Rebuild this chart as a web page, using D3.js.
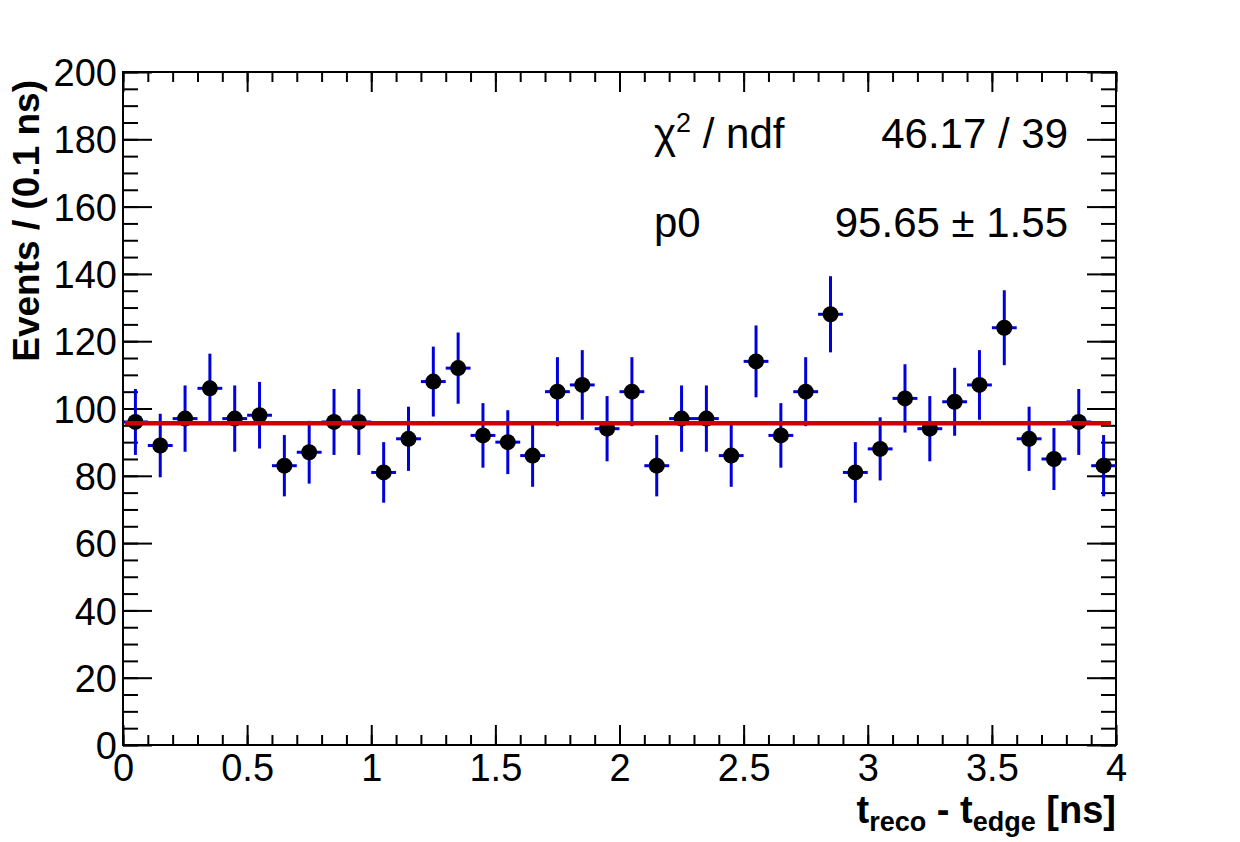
<!DOCTYPE html>
<html><head><meta charset="utf-8">
<script src="https://cdn.jsdelivr.net/npm/d3@7"></script>
<style>body{margin:0;background:#fff}svg{display:block}text{font-family:"Liberation Sans",Arial,Helvetica,sans-serif}</style>
</head><body><svg id="c" width="1240" height="842"></svg>
<script>
const binCenters = [0.05,0.15,0.25,0.35,0.45,0.55,0.65,0.75,0.85,0.95,1.05,1.15,1.25,1.35,1.45,1.55,1.65,1.75,1.85,1.95,2.05,2.15,2.25,2.35,2.45,2.55,2.65,2.75,2.85,2.95,3.05,3.15,3.25,3.35,3.45,3.55,3.65,3.75,3.85,3.95];
const counts = [96,89,97,106,97,98,83,87,96,96,81,91,108,112,92,90,86,105,107,94,105,83,97,97,86,114,92,105,128,81,88,103,94,102,107,124,91,85,96,83];
const binWidth = 0.1;
const fitP0 = 95.65;
const xDomain = [0,4];
const yDomain = [0,200];
const xMajorTicks = [0,0.5,1,1.5,2,2.5,3,3.5,4];
const xTickLabels = ["0","0.5","1","1.5","2","2.5","3","3.5","4"];
const yMajorTicks = [0,20,40,60,80,100,120,140,160,180,200];
const statLabels = ["χ² / ndf","p0"];
const statValues = ["46.17 / 39","95.65 ± 1.55"];

const svg = d3.select("#c");
const L=123,R=1116,T=72,B=745;
const x = d3.scaleLinear().domain(xDomain).range([L,R]);
const y = d3.scaleLinear().domain(yDomain).range([B,T]);
const xMinor = d3.range(0,41).map(i=>i/10);
const yMinor = d3.range(0,41).map(i=>i*5);

function styleAxis(g){g.select(".domain").remove();g.selectAll("line").attr("stroke","#000").attr("stroke-width",2);}
// y axis left
svg.append("g").attr("transform",`translate(${L},0)`).call(d3.axisLeft(y).tickValues(yMinor).tickSize(-15).tickFormat("")).call(styleAxis);
svg.append("g").attr("transform",`translate(${L},0)`).call(d3.axisLeft(y).tickValues(yMajorTicks).tickSize(-29).tickPadding(6).tickFormat(d3.format("d"))).call(styleAxis)
  .selectAll("text").attr("font-size",38).attr("fill","#000").attr("dy","0.36em");
// y axis right
svg.append("g").attr("transform",`translate(${R},0)`).call(d3.axisRight(y).tickValues(yMinor).tickSize(-15).tickFormat("")).call(styleAxis);
svg.append("g").attr("transform",`translate(${R},0)`).call(d3.axisRight(y).tickValues(yMajorTicks).tickSize(-29).tickFormat("")).call(styleAxis);
// x axis bottom
svg.append("g").attr("transform",`translate(0,${B})`).call(d3.axisBottom(x).tickValues(xMinor).tickSize(-10).tickFormat("")).call(styleAxis);
svg.append("g").attr("transform",`translate(0,${B})`).call(d3.axisBottom(x).tickValues(xMajorTicks).tickSize(-20).tickPadding(9).tickFormat((d,i)=>xTickLabels[i])).call(styleAxis)
  .selectAll("text").attr("font-size",38).attr("fill","#000").attr("dy","0.71em");
// x axis top
svg.append("g").attr("transform",`translate(0,${T})`).call(d3.axisTop(x).tickValues(xMinor).tickSize(-10).tickFormat("")).call(styleAxis);
svg.append("g").attr("transform",`translate(0,${T})`).call(d3.axisTop(x).tickValues(xMajorTicks).tickSize(-20).tickFormat("")).call(styleAxis);
// frame
svg.append("rect").attr("x",L).attr("y",T).attr("width",R-L).attr("height",B-T).attr("fill","none").attr("stroke","#000").attr("stroke-width",2);

const blue="#0000dd";
const pts = svg.append("g");
binCenters.forEach((c,i)=>{
  const n=counts[i], e=Math.sqrt(n);
  pts.append("line").attr("x1",x(c-binWidth/2)).attr("x2",x(c+binWidth/2)).attr("y1",y(n)).attr("y2",y(n)).attr("stroke",blue).attr("stroke-width",3);
  pts.append("line").attr("x1",x(c)).attr("x2",x(c)).attr("y1",y(n-e)).attr("y2",y(n+e)).attr("stroke",blue).attr("stroke-width",3);
});
// fit line
svg.append("line").attr("x1",x(xDomain[0])+2).attr("x2",x(xDomain[1])-5).attr("y1",y(fitP0)).attr("y2",y(fitP0)).attr("stroke","#d00000").attr("stroke-width",4.5);
binCenters.forEach((c,i)=>{
  pts.append("circle").attr("cx",x(c)).attr("cy",y(counts[i])).attr("r",8).attr("fill","#000");
});

// stats
const st = svg.append("g").attr("font-size",42).attr("fill","#000");
[148,237].forEach((by,i)=>{
  const lt = st.append("text").attr("x",654).attr("y",by);
  if(i===0){ lt.append("tspan").text("χ"); lt.append("tspan").attr("font-size",27).attr("dy",-16).text("2"); lt.append("tspan").attr("dy",16).text(" / ndf"); }
  else lt.text(statLabels[i]);
  st.append("text").attr("x",1068).attr("y",by).attr("text-anchor","end").text(statValues[i]);
});

// axis titles
const xt = svg.append("text").attr("x",R).attr("y",823).attr("text-anchor","end").attr("font-weight","bold").attr("font-size",38).attr("fill","#000");
xt.append("tspan").text("t");
xt.append("tspan").attr("font-size",27).attr("dy",8).text("reco");
xt.append("tspan").attr("dy",-8).text(" - t");
xt.append("tspan").attr("font-size",27).attr("dy",8).text("edge");
xt.append("tspan").attr("dy",-8).text(" [ns]");

svg.append("text").attr("transform",`translate(39,${T+8}) rotate(-90)`).attr("text-anchor","end").attr("font-weight","bold").attr("font-size",37).attr("fill","#000").text("Events / (0.1 ns)");
</script></body></html>
